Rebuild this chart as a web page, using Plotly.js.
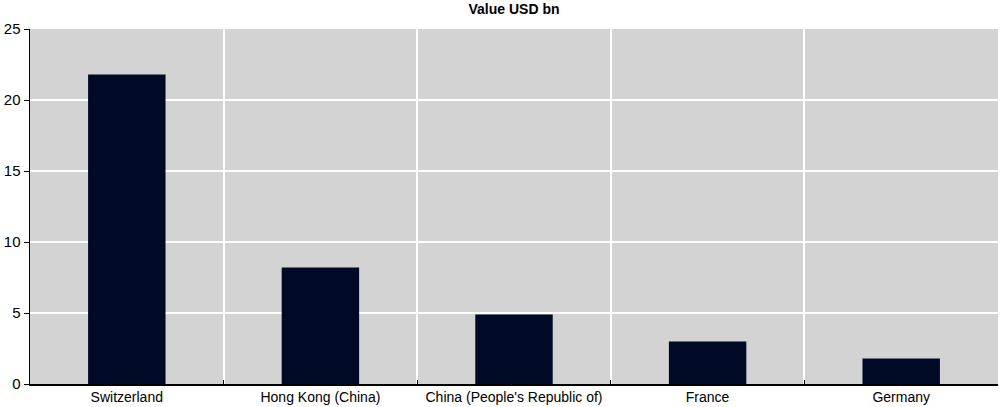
<!DOCTYPE html>
<html><head><meta charset="utf-8">
<script src="https://cdn.plot.ly/plotly-3.0.1.min.js"></script>
<style>html,body{margin:0;padding:0;background:#fff}#c{width:1000px;height:407px}</style>
</head><body><div id="c"></div>
<script>
const categories = ["Switzerland", "Hong Kong (China)", "China (People's Republic of)", "France", "Germany"];
const values = [21.8, 8.2, 4.9, 3.0, 1.8];
const yTicks = [0, 5, 10, 15, 20, 25];
const FONT = "'Liberation Sans Narrow', 'Arial Narrow', 'Liberation Sans', Arial, sans-serif";

Plotly.newPlot('c', [{
  type: 'bar', x: categories, y: values, width: 0.4,
  marker: {color: '#000a26', line: {width: 0}},
  hoverinfo: 'x+y'
}], {
  width: 1000, height: 407,
  margin: {l: 30, r: 2, t: 29, b: 23},
  paper_bgcolor: '#fff', plot_bgcolor: '#d3d3d3',
  font: {family: FONT, size: 14, color: '#000'},
  title: {text: '<b>Value USD bn</b>', x: 0.514, xanchor: 'center', y: 0.99, yanchor: 'top', font: {family: FONT, size: 14, color: '#000'}},
  showlegend: false,
  bargap: 0.6,
  xaxis: {
    type: 'category', tickson: 'boundaries', showgrid: true, gridcolor: '#fff', gridwidth: 2,
    ticks: 'inside', ticklen: 4, tickcolor: '#000', showline: true, linecolor: '#000', linewidth: 1.5,
    tickfont: {family: FONT, size: 14}, range: [-0.5, 4.5], zeroline: false
  },
  yaxis: {
    range: [0, 25], tickvals: yTicks, showgrid: true, gridcolor: '#fff', gridwidth: 2,
    ticks: 'outside', ticklen: 5, tickcolor: '#000', showline: true, linecolor: '#000', linewidth: 1.5,
    tickfont: {family: FONT, size: 15}, zeroline: false, ticklabelstandoff: 0
  }
}, {displayModeBar: false, staticPlot: true});
</script></body></html>
